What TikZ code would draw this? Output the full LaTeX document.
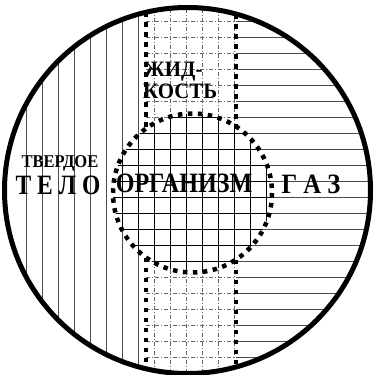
\documentclass[tikz,border=0pt]{standalone}
\usepackage{fontspec}
\setmainfont{Liberation Serif}
\begin{document}
\begin{tikzpicture}[x=1pt,y=-1pt,
  thinline/.style={line width=0.8pt,black!70},
  innerline/.style={line width=0.8pt,black},
  griddash/.style={line width=0.6pt,black!60,dash pattern=on 4pt off 2pt on 1pt off 2pt},
  bigdots/.style={line width=4.5pt,dash pattern=on 4.5pt off 5.5pt},
  lbl/.style={font=\bfseries\fontsize{28}{28}\selectfont,inner sep=0pt,anchor=base},
  smalllbl/.style={font=\bfseries\fontsize{22}{22}\selectfont,inner sep=0pt,anchor=base west}]
\useasboundingbox (0,0) rectangle (375,375);
\coordinate (O) at (187.5,190.5);
\coordinate (C) at (192.5,193);
\begin{scope}
  \clip (O) circle (183);
  \foreach \x in {26,42,...,138} \draw[thinline] (\x,0) -- (\x,375);
  \foreach \y in {5,21,...,373} \draw[thinline] (236,\y) -- (375,\y);
  \begin{scope}
    \clip (146,0) rectangle (236,375);
    \foreach \x in {154,170,...,234} \draw[griddash] (\x,0) -- (\x,375);
    \foreach \y in {5,21,...,373} \draw[griddash] (146,\y) -- (236,\y);
  \end{scope}
\end{scope}
\fill[white] (C) circle (79.5);
\begin{scope}
  \clip (C) circle (79.5);
  \foreach \x in {26,42,...,378} \draw[innerline] (\x,0) -- (\x,375);
  \foreach \y in {5,21,...,373} \draw[innerline] (0,\y) -- (375,\y);
\end{scope}
\coordinate (lt) at (146,12.3);
\coordinate (lm1) at (146,128.5);
\coordinate (lm2) at (146,257.5);
\coordinate (lb) at (146,368.7);
\coordinate (rt) at (236,14);
\coordinate (rm1) at (236,126.5);
\coordinate (rm2) at (236,259.5);
\coordinate (rb) at (236,367);
\draw[bigdots] (lt) -- (lm1) (lm2) -- (lb) (rt) -- (rm1) (rm2) -- (rb);
\draw[bigdots] (C) circle (79.5);
\draw[line width=5pt] (O) circle (183);
\node[inner sep=0pt,anchor=base,font=\bfseries\fontsize{18}{18}\selectfont,xscale=0.92] (tv) at (60,167) {ТВЕРДОЕ};
\node[lbl,xscale=0.84] (telo) at (58,194) {Т Е Л О};
\node[lbl,xscale=0.86] (org) at (184,192) {ОРГАНИЗМ};
\node[lbl,xscale=0.88] (gaz) at (311,193) {Г А З};
\node[smalllbl,xscale=0.95] (zh) at (144,76) {ЖИД-};
\node[smalllbl,xscale=0.95] (ko) at (143,98) {КОСТЬ};
\end{tikzpicture}
\end{document}
